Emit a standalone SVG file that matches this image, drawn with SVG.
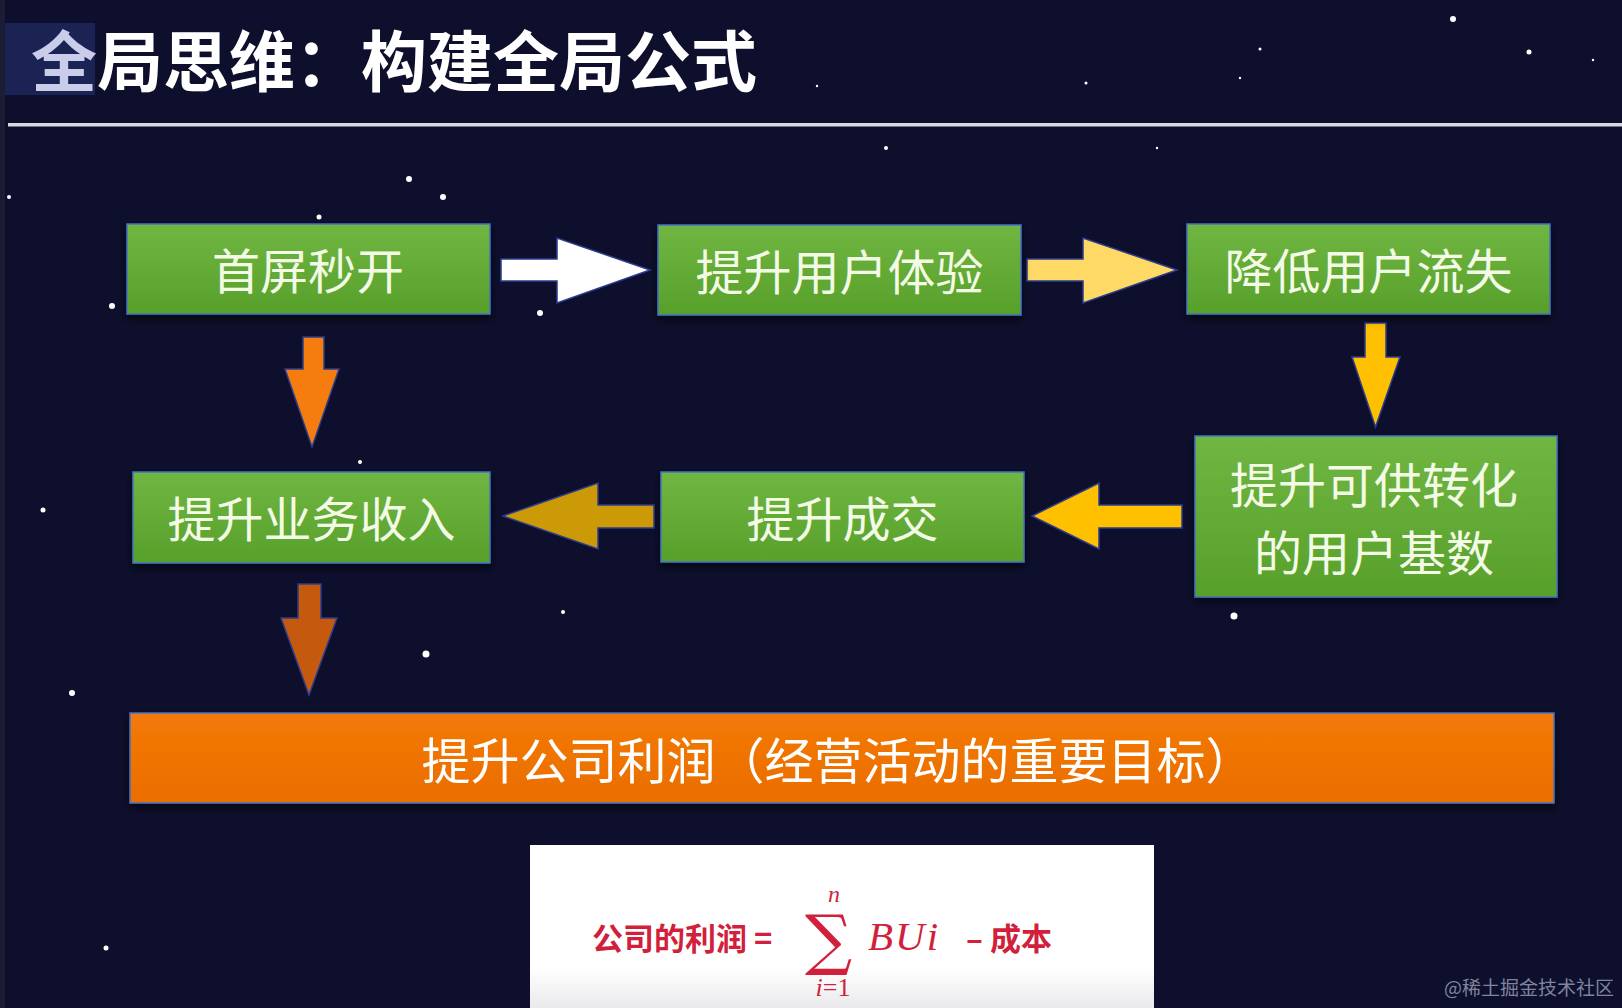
<svg xmlns="http://www.w3.org/2000/svg" width="1622" height="1008" viewBox="0 0 1622 1008">
<defs>
<linearGradient id="g" x1="0" y1="0" x2="0" y2="1"><stop offset="0" stop-color="#70b642"/><stop offset="1" stop-color="#57a02a"/></linearGradient>
<linearGradient id="o" x1="0" y1="0" x2="0" y2="1"><stop offset="0" stop-color="#f47a08"/><stop offset="1" stop-color="#ea6d00"/></linearGradient>
<linearGradient id="w" x1="0" y1="0" x2="0" y2="1"><stop offset="0" stop-color="#ffffff"/><stop offset="0.72" stop-color="#ffffff"/><stop offset="1" stop-color="#e6e6ea"/></linearGradient>
<filter id="sh" x="-5%" y="-10%" width="110%" height="130%"><feDropShadow dx="0" dy="4" stdDeviation="4" flood-color="#000" flood-opacity="0.6"/></filter>
</defs>
<style>
.bg{fill:#0d0f2c}
.box{fill:url(#g);stroke:#4472c4;stroke-width:1.5;filter:url(#sh)}
.t{font-family:"Noto Sans CJK SC","Noto Sans",sans-serif;font-size:48px;fill:#f3fbe6;text-anchor:middle;dominant-baseline:central}
.ar{stroke:#2b3d8c;stroke-width:1.5}
.star{fill:#ffffff}
.red{font-family:"Noto Sans CJK SC","Noto Sans",sans-serif;font-weight:bold;font-size:31px;fill:#d11f3c}
.m{font-family:"Liberation Serif","DejaVu Serif",serif;font-style:italic;fill:#d11f3c}
</style>
<rect class="bg" x="0" y="0" width="1622" height="1008"/>
<rect x="0" y="0" width="5" height="1008" fill="#1b1d35"/>
<g id="stars">
<circle class="star" cx="1453" cy="19" r="3"/>
<circle class="star" cx="1529" cy="52" r="2.5"/>
<circle class="star" cx="1260" cy="49" r="1.5"/>
<circle class="star" cx="1086" cy="83" r="1.5"/>
<circle class="star" cx="817" cy="86" r="1.2"/>
<circle class="star" cx="1593" cy="60" r="1.2"/>
<circle class="star" cx="1157" cy="148" r="1.2"/>
<circle class="star" cx="886" cy="148" r="2"/>
<circle class="star" cx="409" cy="179" r="3"/>
<circle class="star" cx="443" cy="197" r="3"/>
<circle class="star" cx="9" cy="197" r="2"/>
<circle class="star" cx="319" cy="217" r="2.5"/>
<circle class="star" cx="112" cy="306" r="3"/>
<circle class="star" cx="540" cy="313" r="3"/>
<circle class="star" cx="360" cy="462" r="2"/>
<circle class="star" cx="43" cy="510" r="2.5"/>
<circle class="star" cx="1234" cy="616" r="3.5"/>
<circle class="star" cx="563" cy="612" r="2"/>
<circle class="star" cx="426" cy="654" r="3.5"/>
<circle class="star" cx="72" cy="693" r="3"/>
<circle class="star" cx="106" cy="948" r="2.5"/>
<circle class="star" cx="1240" cy="78" r="1.2"/>
</g>
<g id="title">
<rect x="5" y="23" width="90" height="72" fill="#1b2354"/>
<text x="31" y="86" font-family="Noto Sans CJK SC, sans-serif" font-weight="bold" font-size="66" fill="#ffffff"><tspan fill="#c9cdea">全</tspan>局思维：构建全局公式</text>
<rect x="8" y="123" width="1614" height="3.5" fill="#d8dae6"/>
</g>
<g id="connectors">
<polygon class="ar" fill="#ffffff" points="501,259 557,259 557,238 650,270 557,303 557,281 501,281"/>
<polygon class="ar" fill="#ffd966" points="1027,259 1083,259 1083,238 1177,270 1083,303 1083,281 1027,281"/>
<polygon class="ar" fill="#ffc000" points="1365,323 1386,323 1386,357 1400,357 1375.5,427 1352,357 1365,357"/>
<polygon class="ar" fill="#ffc000" points="1182,505 1099,505 1099,483 1032,516 1099,549 1099,528 1182,528"/>
<polygon class="ar" fill="#cc9a06" points="654,505 598,505 598,483 503,516 598,549 598,528 654,528"/>
<polygon class="ar" fill="#f57c0e" points="303,337 324,337 324,369 339,369 312,447 285,369 303,369"/>
<polygon class="ar" fill="#c55a0f" points="298,584 321,584 321,618 337,618 309,695 281,618 298,618"/>
</g>
<g id="n1"><rect class="box" x="127" y="224" width="363" height="90"/><text class="t" x="308" y="268">首屏秒开</text></g>
<g id="n2"><rect class="box" x="658" y="225" width="363" height="90"/><text class="t" x="839.5" y="269">提升用户体验</text></g>
<g id="n3"><rect class="box" x="1187" y="224" width="363" height="90"/><text class="t" x="1368.5" y="268">降低用户流失</text></g>
<g id="n4"><rect class="box" x="1195" y="436" width="362" height="161"/><text class="t" x="1374" y="482">提升可供转化</text><text class="t" x="1374" y="550">的用户基数</text></g>
<g id="n5"><rect class="box" x="661" y="472" width="363" height="90"/><text class="t" x="842.5" y="516">提升成交</text></g>
<g id="n6"><rect class="box" x="133" y="472" width="357" height="91"/><text class="t" x="311.5" y="516">提升业务收入</text></g>
<g id="n7"><rect x="130" y="713" width="1424" height="90" fill="url(#o)" stroke="#4472c4" stroke-width="1.5" filter="url(#sh)"/><text class="t" x="838" y="757" style="fill:#ffffff;font-size:49px">提升公司利润（经营活动的重要目标）</text></g>
<g id="formula">
<rect x="530" y="845" width="624" height="170" fill="url(#w)"/>
<text class="red" x="592" y="950">公司的利润 =</text>
<text x="805" y="962" font-family="DejaVu Serif, serif" font-size="66" fill="#d11f3c">∑</text>
<text class="m" x="834" y="902" font-size="24" text-anchor="middle">n</text>
<text class="m" x="833" y="996" font-size="26" text-anchor="middle">i<tspan font-style="normal">=1</tspan></text>
<text class="m" x="868" y="950" font-size="41" letter-spacing="2">BUi</text>
<text class="red" x="966" y="950" font-size="33">– 成本</text>
</g>
<text id="watermark" x="1614" y="995" text-anchor="end" font-family="Noto Sans CJK SC, sans-serif" font-size="19" fill="#7f849e">@稀土掘金技术社区</text>
</svg>
